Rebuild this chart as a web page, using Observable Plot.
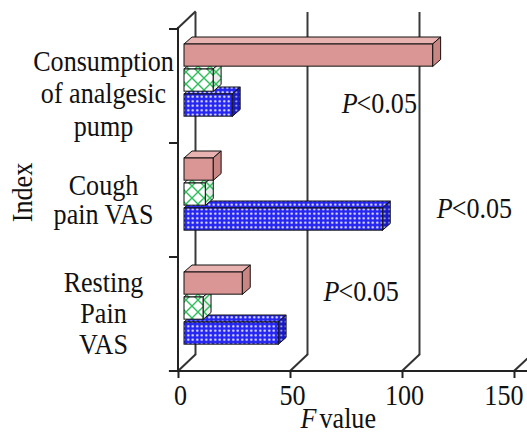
<!DOCTYPE html>
<html>
<head>
<meta charset="utf-8">
<script src="https://cdn.jsdelivr.net/npm/d3@7"></script>
<script src="https://cdn.jsdelivr.net/npm/@observablehq/plot@0.6"></script>
<style>
  html, body { margin: 0; padding: 0; background: #fff; }
  #chart svg { display: block; }
</style>
</head>
<body>
<div id="chart"></div>
<script>
// Categories (top to bottom) and their wrapped labels
const categories = ["Consumption of analgesic pump", "Cough pain VAS", "Resting Pain VAS"];
const categoryLabels = ["Consumption\nof analgesic\npump", "Cough\npain VAS", "Resting\nPain\nVAS"];

// F values per series, in category order
const salmonValues = [111, 13, 26];
const greenValues = [13, 9.5, 8.5];
const blueValues = [21.5, 88.5, 42];

const xTicks = [0, 50, 100, 150];
const pLabels = ["P<0.05", "P<0.05", "P<0.05"];

// ---- layout ----
const W = 527, H = 435;
const M = {top: 28, right: 13, bottom: 64, left: 178};
const wall = {dx: 17, dy: -16};      // depth of the back wall
const barShift = 6;                  // bars sit slightly behind the front plane
const barDepth = {dx: 8, dy: -7};    // thickness of each box
const bw = (H - M.top - M.bottom) / categories.length;
const rowTop = [15, 40, 65];         // front-face top inside each band, per series
const rowH = 22.5;
const FONT = "'Liberation Serif', 'Times New Roman', serif";
const FS = 29;                       // font size
const SX = 0.9;                      // horizontal condensing of all text

const seriesValues = [salmonValues, greenValues, blueValues];
const faceFills = [
  {front: "#D99694", top: "#E7B2B0", side: "#C98582"},
  {front: "url(#cross)", top: "url(#cross)", side: "url(#crossSide)"},
  {front: "url(#dots)", top: "url(#dots)", side: "url(#dotsSide)"}
];

const rows = seriesValues.flatMap((vals, s) =>
  categories.map((c, j) => ({series: s, category: c, value: vals[j]})));

// Axis frame: front axes, category ticks, floor connectors
function frameLines(index, {x, y}) {
  const g = d3.create("svg:g").attr("fill", "none").attr("stroke-linecap", "square");
  const x0 = x(0), yTop = M.top, yBot = H - M.bottom;
  const bounds = categories.map(c => y(c)).concat([yBot]);
  for (const v of xTicks) {
    g.append("line").attr("x1", x(v)).attr("y1", yBot)
      .attr("x2", x(v) + wall.dx).attr("y2", yBot + wall.dy)
      .attr("stroke", "#333").attr("stroke-width", 2);
  }
  g.append("line").attr("x1", x0).attr("y1", yTop)
    .attr("x2", x0 + wall.dx).attr("y2", yTop + wall.dy)
    .attr("stroke", "#333").attr("stroke-width", 2);
  for (const b of bounds) {
    g.append("line").attr("x1", x0 - 8).attr("x2", x0).attr("y1", b).attr("y2", b)
      .attr("stroke", "#222").attr("stroke-width", 2);
  }
  g.append("line").attr("x1", x0).attr("x2", x0).attr("y1", yTop).attr("y2", yBot)
    .attr("stroke", "#222").attr("stroke-width", 2);
  g.append("line").attr("x1", x0 - 8).attr("x2", W).attr("y1", yBot).attr("y2", yBot)
    .attr("stroke", "#222").attr("stroke-width", 2.2);
  return g.node();
}

// Top and right faces of the boxes of one series
function boxFaces(s) {
  const data = rows.filter(d => d.series === s);
  return (index, {x, y}) => {
    const g = d3.create("svg:g").attr("stroke", "#111").attr("stroke-width", 1).attr("stroke-linejoin", "round");
    const {dx, dy} = barDepth;
    for (const d of data) {
      const x0 = x(0) + barShift, x1 = x(d.value) + barShift;
      const t = y(d.category) + rowTop[s], b = t + rowH;
      g.append("path")
        .attr("d", `M${x0},${t}L${x0 + dx},${t + dy}L${x1 + dx},${t + dy}L${x1},${t}Z`)
        .attr("fill", faceFills[s].top);
      g.append("path")
        .attr("d", `M${x1},${t}L${x1 + dx},${t + dy}L${x1 + dx},${b + dy}L${x1},${b}Z`)
        .attr("fill", faceFills[s].side);
    }
    return g.node();
  };
}

// Lower boxes first so the ones above overlap their top faces
const barMarks = [2, 1, 0].flatMap(s => [
  boxFaces(s),
  Plot.barX(rows.filter(d => d.series === s), {
    x: "value", y: "category", dx: barShift,
    insetTop: rowTop[s], insetBottom: bw - rowTop[s] - rowH,
    fill: faceFills[s].front, stroke: "#111", strokeWidth: 1
  })
]);

const catLabelStyle = [
  {dy: 6.4, lineHeight: 1.12},
  {dy: -0.5, lineHeight: 1.02},
  {dy: -1.8, lineHeight: 1.07}
];
const labelMarks = categories.map((c, j) =>
  Plot.text([c], {
    y: d => d, text: () => categoryLabels[j], frameAnchor: "left",
    dx: -75, dy: catLabelStyle[j].dy, textAnchor: "middle", lineAnchor: "middle",
    lineHeight: catLabelStyle[j].lineHeight, fontSize: FS, fill: "#111"
  }));

// Significance notes: anchor x (F scale) and vertical shift from band centre
const pAnchor = [{x: 79.5, dy: 17.5}, {x: 122, dy: 8.2}, {x: 71.4, dy: -23}];
const pMarks = categories.flatMap((c, j) => [
  Plot.text([c], {y: d => d, x: () => pAnchor[j].x, text: () => pLabels[j].slice(0, 1),
    fontStyle: "italic", textAnchor: "end", lineAnchor: "middle", dx: 1, dy: pAnchor[j].dy,
    fontSize: FS, fill: "#111"}),
  Plot.text([c], {y: d => d, x: () => pAnchor[j].x, text: () => pLabels[j].slice(1),
    textAnchor: "start", lineAnchor: "middle", dy: pAnchor[j].dy, fontSize: FS, fill: "#111"})
]);

// tick labels: the last one is kept inside the right edge
const tickLabelMarks = [
  Plot.text(xTicks.slice(0, -1), {x: d => d, text: d => String(d), frameAnchor: "bottom",
    lineAnchor: "top", dx: 2, dy: 13, fontSize: FS, fill: "#111"}),
  Plot.text(xTicks.slice(-1), {x: d => d, text: d => String(d), frameAnchor: "bottom",
    textAnchor: "end", lineAnchor: "top", dx: 9, dy: 13, fontSize: FS, fill: "#111"})
];

const chart = Plot.plot({
  width: W, height: H,
  marginTop: M.top, marginRight: M.right, marginBottom: M.bottom, marginLeft: M.left,
  x: {domain: [0, 150]},
  y: {domain: categories, padding: 0, axis: null},
  style: {fontFamily: FONT, fontSize: FS + "px", background: "#fff", color: "#111", overflow: "visible"},
  marks: [
    // back wall edge and gridlines
    Plot.ruleX(xTicks, {dx: wall.dx, dy: wall.dy, stroke: "#3a3a3a", strokeWidth: 2}),
    frameLines,
    ...barMarks,
    Plot.axisX({ticks: xTicks, tickSize: 7, tickFormat: () => "", label: null,
      stroke: "#222", strokeWidth: 2}),
    ...tickLabelMarks,
    ...labelMarks,
    ...pMarks,
    Plot.text(["Index"], {frameAnchor: "left", dx: -156, dy: -7.5, rotate: -90,
      textAnchor: "middle", lineAnchor: "middle", fontSize: FS, fill: "#111"}),
    Plot.text(["F"], {frameAnchor: "bottom", dx: -30, dy: 47.7, fontStyle: "italic",
      textAnchor: "end", lineAnchor: "middle", fontSize: FS, fill: "#111"}),
    Plot.text(["value"], {frameAnchor: "bottom", dx: -27, dy: 47.7,
      textAnchor: "start", lineAnchor: "middle", fontSize: FS, fill: "#111"})
  ]
});

// condense every text horizontally around its own anchor point
for (const t of chart.querySelectorAll("text")) {
  const num = a => {
    const v = t.getAttribute(a);
    return v != null && /^-?[\d.]+$/.test(v) ? +v : null;
  };
  const tx = num("x"), ty = num("y");
  let tr = t.getAttribute("transform") || "";
  if (tx != null || ty != null) {
    tr += ` translate(${tx || 0},${ty || 0})`;
    t.removeAttribute("x");
    t.removeAttribute("y");
  }
  t.setAttribute("transform", `${tr} scale(${SX},1)`.trim());
}

// fill patterns for the hatched and dotted boxes
const defs = d3.select(chart).insert("defs", ":first-child");
function pattern(id, size) {
  return defs.append("pattern").attr("id", id).attr("patternUnits", "userSpaceOnUse")
    .attr("width", size).attr("height", size);
}
const dots = pattern("dots", 4.5);
dots.append("rect").attr("width", 4.5).attr("height", 4.5).attr("fill", "#2626F2");
dots.append("circle").attr("cx", 2.25).attr("cy", 2.25).attr("r", 1.15).attr("fill", "#f2f4ff");
const dotsSide = pattern("dotsSide", 4.5);
dotsSide.append("rect").attr("width", 4.5).attr("height", 4.5).attr("fill", "#1a1ac4");
dotsSide.append("circle").attr("cx", 2.25).attr("cy", 2.25).attr("r", 1).attr("fill", "#c8ceff");
const cross = pattern("cross", 12);
cross.append("rect").attr("width", 12).attr("height", 12).attr("fill", "#fff");
cross.append("path").attr("d", "M0,0L12,12M12,0L0,12").attr("stroke", "#2DBE5A").attr("stroke-width", 1.4);
const crossSide = pattern("crossSide", 12);
crossSide.append("rect").attr("width", 12).attr("height", 12).attr("fill", "#ececec");
crossSide.append("path").attr("d", "M0,0L12,12M12,0L0,12").attr("stroke", "#2DBE5A").attr("stroke-width", 1.4);

document.getElementById("chart").append(chart);
</script>
</body>
</html>
